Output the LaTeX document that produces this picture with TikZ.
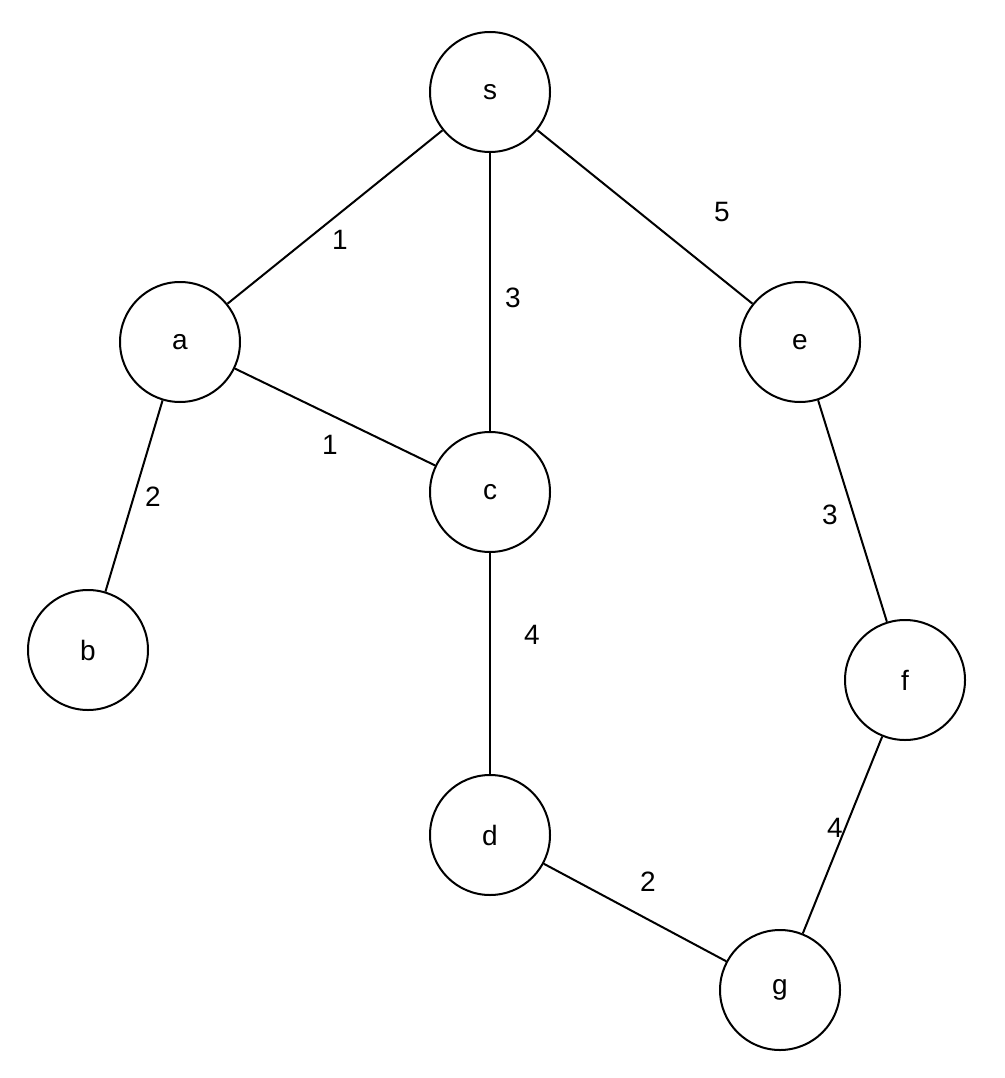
\documentclass[tikz,border=0pt]{standalone}
\usepackage{fontspec}
\setmainfont{Liberation Sans}
\begin{document}
\begin{tikzpicture}[x=1pt,y=-1pt,
  v/.style={circle,draw,line width=2pt,minimum size=120pt,inner sep=0pt,font=\fontsize{28}{32}\selectfont},
  e/.style={line width=2pt},
  w/.style={font=\fontsize{28}{32}\selectfont}]
\useasboundingbox (0,0) rectangle (1004,1078);
\node[v] (s) at (490,92) {s};
\node[v] (a) at (180,342) {a};
\node[v] (e) at (800,342) {e};
\node[v] (c) at (490,492) {c};
\node[v] (b) at (88,650) {b};
\node[v] (f) at (905,680) {f};
\node[v] (d) at (490,835) {d};
\node[v] (g) at (780,990) {g};
\draw[e] (s) -- (a);
\draw[e] (s) -- (c);
\draw[e] (s) -- (e);
\draw[e] (a) -- (c);
\draw[e] (a) -- (b);
\draw[e] (c) -- (d);
\draw[e] (e) -- (f);
\draw[e] (f) -- (g);
\draw[e] (d) -- (g);
\node[w] (l1) at (340,240) {1};
\node[w] (l2) at (513,298) {3};
\node[w] (l3) at (722,212) {5};
\node[w] (l4) at (330,445) {1};
\node[w] (l5) at (153,497) {2};
\node[w] (l6) at (532,635) {4};
\node[w] (l7) at (830,515) {3};
\node[w] (l8) at (835,828) {4};
\node[w] (l9) at (648,882) {2};
\end{tikzpicture}
\end{document}
